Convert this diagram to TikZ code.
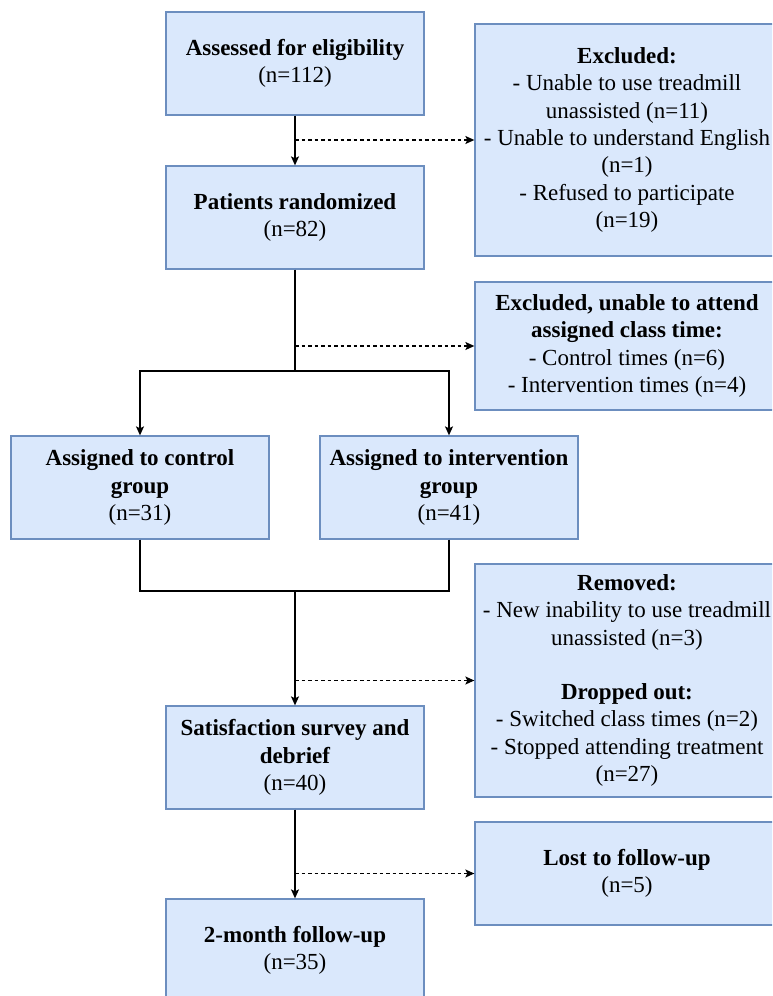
\documentclass[tikz,border=0pt]{standalone}
\usepackage{fontspec}
\setmainfont{Liberation Serif}
\usetikzlibrary{arrows.meta,calc}
\definecolor{boxfill}{HTML}{DAE8FC}
\definecolor{boxline}{HTML}{6C8EBF}
\tikzset{
  box/.style={draw=boxline, fill=boxfill, line width=1.3pt, inner sep=0pt,
    minimum width=258pt, minimum height=103pt, align=center,
    font=\fontsize{23}{27.3}\selectfont},
  sidebox/.style={box, minimum width=304pt},
  conn/.style={line width=1.3pt, black},
  arr/.style={conn, -{Stealth[length=9pt,width=8pt,inset=2pt]}},
  darr/.style={arr, dash pattern=on 3.5pt off 3pt},
}
\begin{document}
\begin{tikzpicture}[x=1pt,y=-1pt]
\useasboundingbox (0,0) rectangle (772,996);
\clip (0,0) rectangle (772,996);
\node[box] (n1) at (295,63.5) {\textbf{Assessed for eligibility}\\(n=112)};
\node[box] (n2) at (295,217.5) {\textbf{Patients randomized}\\(n=82)};
\node[sidebox, minimum height=232pt] (ex1) at (627,140) {\textbf{Excluded:}\\- Unable to use treadmill\\unassisted (n=11)\\- Unable to understand English\\(n=1)\\- Refused to participate\\(n=19)};
\node[sidebox, minimum height=128pt] (ex2) at (627,346) {\textbf{Excluded, unable to attend}\\\textbf{assigned class time:}\\- Control times (n=6)\\- Intervention times (n=4)};
\node[box] (ctl) at (140,487.5) {\textbf{Assigned to control}\\\textbf{group}\\(n=31)};
\node[box] (int) at (449,487.5) {\textbf{Assigned to intervention}\\\textbf{group}\\(n=41)};
\node[sidebox, minimum height=233pt] (rem) at (627,680.5) {\textbf{Removed:}\\- New inability to use treadmill\\unassisted (n=3)\\[27.3pt]\textbf{Dropped out:}\\- Switched class times (n=2)\\- Stopped attending treatment\\(n=27)};
\node[box] (sat) at (295,757.5) {\textbf{Satisfaction survey and}\\\textbf{debrief}\\(n=40)};
\node[sidebox] (lost) at (627,873.5) {\textbf{Lost to follow-up}\\(n=5)};
\node[box] (fu) at (295,950.5) {\textbf{2-month follow-up}\\(n=35)};
\coordinate (sp) at (295,371);
\coordinate (mg) at (295,591);
% connectors
\draw[arr] (n1) -- (n2);
\draw[darr] (n1.south |- ex1.west) -- (ex1.west);
\draw[conn] (n2.south) -- (sp);
\draw[arr] (sp) -| (ctl.north);
\draw[arr] (sp) -| (int.north);
\draw[darr] (n2.south |- ex2.west) -- (ex2.west);
\draw[conn] (ctl.south) |- (mg);
\draw[conn] (int.south) |- (mg);
\draw[arr] (mg) -- (sat.north);
\draw[darr] (sat.north |- rem.west) -- (rem.west);
\draw[arr] (sat) -- (fu);
\draw[darr] (sat.south |- lost.west) -- (lost.west);
\end{tikzpicture}
\end{document}
